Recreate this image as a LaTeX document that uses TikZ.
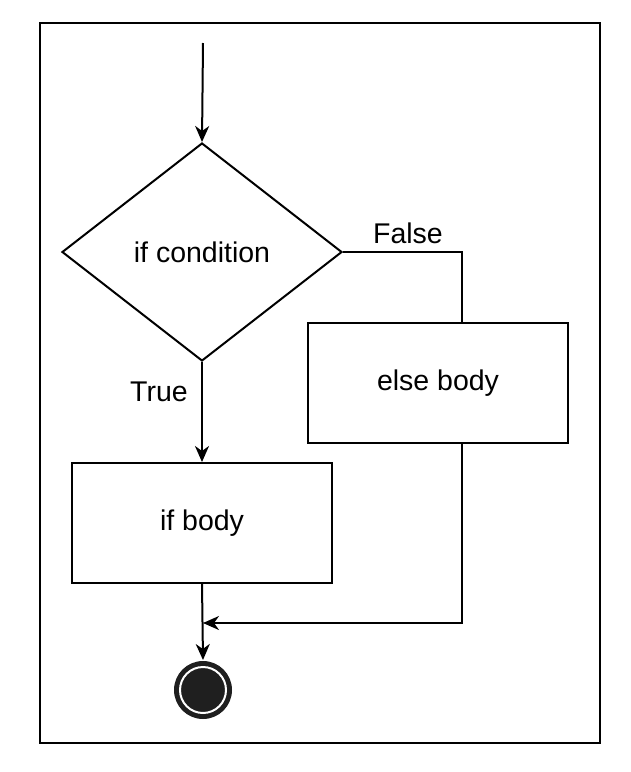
\documentclass[tikz,border=0pt]{standalone}
\usepackage{fontspec}
\setmainfont{Liberation Sans}
\usetikzlibrary{arrows.meta,shapes.geometric}
\begin{document}
\begin{tikzpicture}[x=1pt,y=-1pt,
  line width=2pt,
  txt/.style={font=\fontsize{28.5}{34}\selectfont},
  lbl/.style={txt, inner sep=0pt},
  box/.style={draw, txt, minimum width=260pt, minimum height=120pt, inner sep=0pt},
  arr/.style={-{Stealth[length=16pt,width=14pt,inset=5pt]}}
]
\useasboundingbox (0,0) rectangle (630,772);
\draw (40,23) rectangle (600,743);
\coordinate (start) at (203,43);
\node[draw, diamond, txt, minimum width=280pt, minimum height=218pt, inner sep=0pt] (cond) at (202,252) {if condition};
\node[box] (else) at (438,383) {else body};
\node[box] (ifb) at (202,523) {if body};
\node[circle, fill=black!88, minimum size=58pt, inner sep=0pt] (endo) at (203,690) {};
\node[circle, draw=white, line width=2pt, fill=black!88, minimum size=46pt, inner sep=0pt] at (203,690) {};
\coordinate (ftop) at (462,323);
\coordinate (fbot) at (462,443);
\coordinate (merge) at (203,623);
\draw (cond.east) -| (ftop);
\draw[arr] (fbot) |- (merge);
\draw[arr] (start) -- (cond.north);
\draw[arr] (cond.south) -- (ifb.north);
\draw[arr] (ifb.south) -- (endo.north);
\node[lbl] (f) at (408,233) {False};
\node[lbl] (t) at (159,392) {True};
\end{tikzpicture}
\end{document}
